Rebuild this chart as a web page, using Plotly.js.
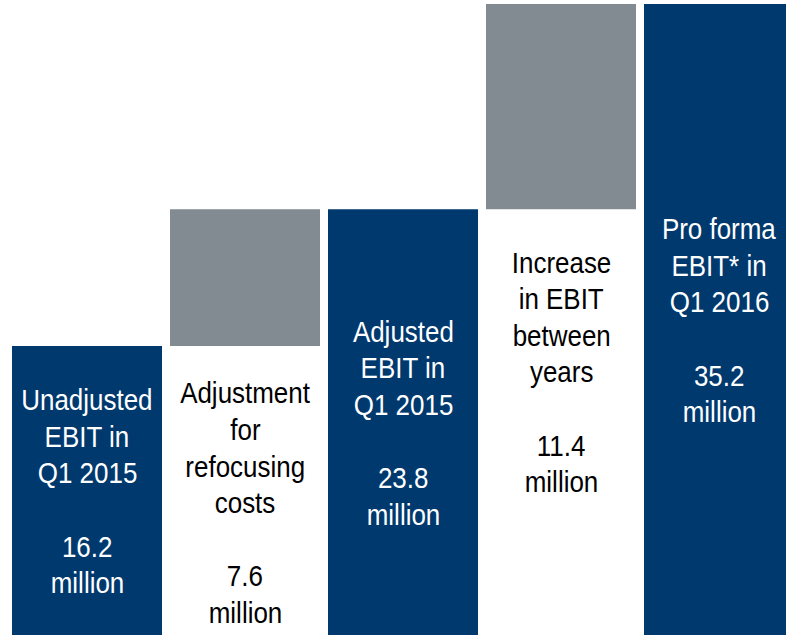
<!DOCTYPE html>
<html>
<head>
<meta charset="utf-8">
<script src="https://cdn.plot.ly/plotly-3.0.1.min.js"></script>
<style>html,body{margin:0;padding:0;background:#fff;}#chart{width:786px;height:635px;}</style>
</head>
<body>
<div id="chart"></div>
<script>
// ---- data ----
const categories = ["Unadjusted EBIT in Q1 2015", "Adjustment for refocusing costs", "Adjusted EBIT in Q1 2015", "Increase in EBIT between years", "Pro forma EBIT* in Q1 2016"];
const labelLines = [
  ["Unadjusted", "EBIT in", "Q1 2015"],
  ["Adjustment", "for", "refocusing", "costs"],
  ["Adjusted", "EBIT in", "Q1 2015"],
  ["Increase", "in EBIT", "between", "years"],
  ["Pro forma", "EBIT* in", "Q1 2016"]
];
const values = [16.2, 7.6, 23.8, 11.4, 35.2];
const valueText = ["16.2", "7.6", "23.8", "11.4", "35.2"];
const measures = ["absolute", "relative", "total", "relative", "total"];
const unit = "million";

// ---- styling ----
const NAVY = "#00396E";
const GRAY = "#828B92";
const FONT = "'Liberation Sans', Arial, sans-serif";
const FS = 30;
const LINE = 36.6;
const SQUEEZE = 0.865;

// compute bar bases from data
const bases = [];
let run = 0;
values.forEach((v, i) => {
  if (measures[i] === "relative") { bases.push(run); run += v; }
  else { bases.push(0); run = v; }
});

const trace = {
  type: "waterfall",
  x: [0, 1, 2, 3, 4],
  y: values,
  measure: measures,
  text: categories,
  textinfo: "none",
  hoverinfo: "skip",
  connector: {visible: false},
  increasing: {marker: {color: GRAY, line: {width: 0}}},
  decreasing: {marker: {color: GRAY, line: {width: 0}}},
  totals: {marker: {color: NAVY, line: {width: 0}}}
};

// annotations: one per line
const annotations = [];
const grayGap = {1: 48, 3: 54};
labelLines.forEach((lines, i) => {
  const all = lines.concat(["", valueText[i], unit]);
  const n = all.length;
  const isTotal = measures[i] !== "relative";
  all.forEach((t, k) => {
    if (!t) return;
    let ann = {
      x: i, xref: "x", yref: "y", text: t, showarrow: false,
      font: {family: FONT, size: FS, color: isTotal ? "#FFFFFF" : "#000000"},
      xanchor: "center", yanchor: "middle", borderpad: 0
    };
    if (isTotal) {
      ann.y = values[i] / 2;
      ann.yshift = -((k - (n - 1) / 2) * LINE) + 0.5;
    } else {
      ann.y = bases[i];
      ann.yshift = -(grayGap[i] + k * LINE) + 1;
    }
    annotations.push(ann);
  });
});

const layout = {
  width: 786, height: 635,
  margin: {l: 0, r: 0, t: 0, b: 0, pad: 0},
  paper_bgcolor: "#FFFFFF", plot_bgcolor: "#FFFFFF",
  showlegend: false,
  waterfallgap: 0.0506,
  xaxis: {visible: false, range: [-0.5506, 4.424], fixedrange: true},
  yaxis: {visible: false, range: [0.144, 35.42], fixedrange: true},
  annotations: annotations
};

Plotly.newPlot("chart", [trace], layout, {displayModeBar: false, staticPlot: true}).then(() => {
  document.querySelectorAll("#chart .annotation").forEach(g => {
    const t = g.querySelector(".annotation-text");
    if (!t) return;
    const w = t.getComputedTextLength();
    const nw = w * SQUEEZE;
    t.setAttribute("lengthAdjust", "spacingAndGlyphs");
    t.setAttribute("textLength", nw.toFixed(2));
    const r = g.querySelector("rect.bg");
    if (r) {
      const rx = parseFloat(r.getAttribute("x") || 0);
      const rw = parseFloat(r.getAttribute("width") || 0);
      const cx = rx + rw / 2;
      const newW = rw - (w - nw);
      r.setAttribute("x", (cx - newW / 2).toFixed(2));
      r.setAttribute("width", newW.toFixed(2));
    }
  });
});
</script>
</body>
</html>
